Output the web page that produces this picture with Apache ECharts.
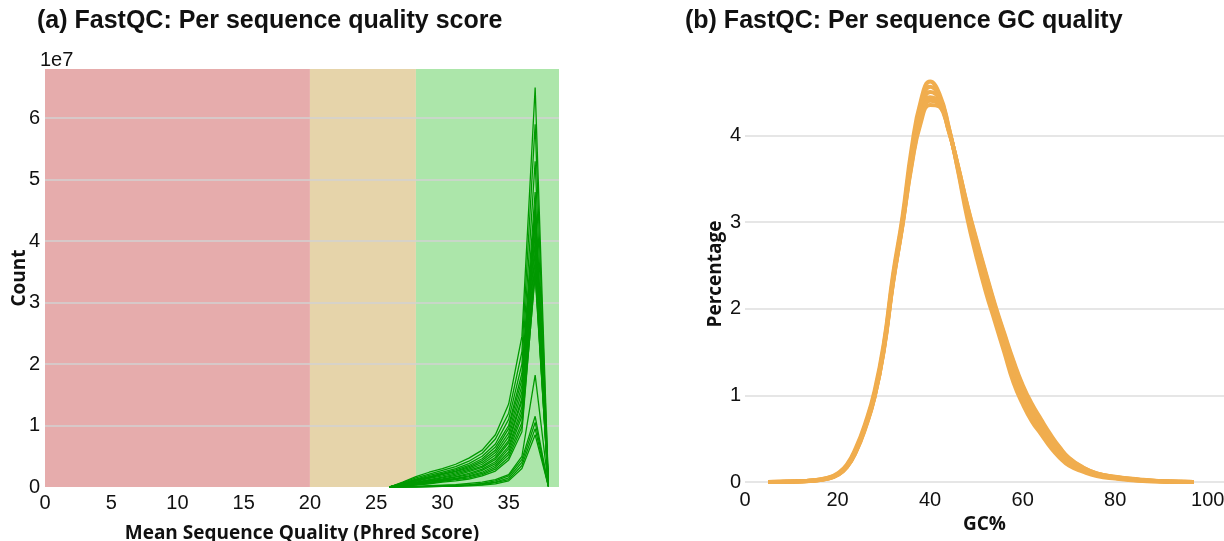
<!DOCTYPE html>
<html>
<head>
<meta charset="utf-8">
<script src="https://cdn.jsdelivr.net/npm/echarts@6/dist/echarts.min.js"></script>
<style>
html,body{margin:0;padding:0;background:#fff}
#chart{width:1224px;height:541px}
</style>
</head>
<body>
<div id="chart"></div>
<script>
// (a) per sequence quality score, counts in units of 1e7
const qualX = [26,27,28,29,30,31,32,33,34,35,36,37,38];
const qualLines = [
  [0,0.08,0.17,0.24,0.30,0.37,0.47,0.60,0.85,1.35,2.45,6.50,0.05],
  [0,0.07,0.15,0.21,0.27,0.33,0.42,0.55,0.78,1.20,2.20,5.90,0.04],
  [0,0.06,0.13,0.19,0.24,0.30,0.38,0.50,0.70,1.10,2.00,5.30,0.04],
  [0,0.06,0.12,0.17,0.22,0.28,0.35,0.46,0.65,1.00,1.85,4.80,0.03],
  [0,0.05,0.11,0.16,0.21,0.26,0.33,0.43,0.60,0.95,1.75,4.60,0.03],
  [0,0.05,0.10,0.15,0.20,0.25,0.31,0.40,0.56,0.88,1.65,4.50,0.03],
  [0,0.04,0.09,0.14,0.18,0.23,0.29,0.37,0.52,0.82,1.55,4.40,0.03],
  [0,0.04,0.08,0.12,0.16,0.21,0.27,0.34,0.48,0.76,1.45,4.30,0.02],
  [0,0.03,0.07,0.11,0.15,0.19,0.25,0.32,0.45,0.72,1.40,4.15,0.02],
  [0,0.03,0.06,0.10,0.13,0.17,0.22,0.29,0.41,0.66,1.30,4.00,0.02],
  [0,0.03,0.06,0.09,0.12,0.16,0.20,0.27,0.38,0.62,1.22,3.85,0.02],
  [0,0.02,0.05,0.08,0.11,0.14,0.18,0.24,0.35,0.57,1.15,3.70,0.02],
  [0,0.02,0.04,0.07,0.10,0.13,0.17,0.22,0.32,0.53,1.05,3.55,0.01],
  [0,0.02,0.04,0.06,0.09,0.12,0.15,0.20,0.29,0.48,0.98,3.45,0.01],
  [0,0.01,0.03,0.05,0.08,0.10,0.13,0.18,0.26,0.44,0.90,3.50,0.01],
  [0,0,0.01,0.02,0.03,0.04,0.06,0.08,0.12,0.20,0.50,1.82,0.02],
  [0,0,0.01,0.01,0.02,0.03,0.04,0.06,0.10,0.18,0.45,1.15,0.01],
  [0,0,0,0.01,0.02,0.02,0.03,0.05,0.08,0.15,0.40,1.05,0.01],
  [0,0,0,0.01,0.01,0.02,0.03,0.04,0.07,0.12,0.35,0.95,0.01],
  [0,0,0,0,0.01,0.01,0.02,0.03,0.05,0.10,0.30,0.85,0.01]
];
const qualBands = [[0,20,'#e6acac'],[20,28,'#e6d4aa'],[28,38.8,'#ace6aa']];

// (b) per sequence GC content, percentage
const gcX = [5,10,15,18,20,22,24,26,28,30,32,34,36,38,40,42,44,46,48,50,52,54,56,58,60,62,64,66,68,70,73,76,80,85,90,97];
const gcLines = [
  [0,0.005,0.02,0.05,0.1,0.2,0.4,0.68,1.05,1.6,2.4,3.05,3.85,4.4,4.62,4.48,4.1,3.6,3.05,2.6,2.2,1.85,1.5,1.15,0.9,0.7,0.55,0.4,0.28,0.19,0.12,0.07,0.04,0.015,0.005,0],
  [0,0.005,0.02,0.05,0.09,0.19,0.38,0.66,1.02,1.57,2.36,3.01,3.78,4.32,4.56,4.45,4.09,3.61,3.1,2.65,2.26,1.9,1.56,1.22,0.95,0.75,0.59,0.43,0.31,0.21,0.13,0.08,0.045,0.018,0.006,0],
  [0,0.005,0.018,0.045,0.09,0.18,0.37,0.65,1.0,1.55,2.34,2.99,3.74,4.27,4.5,4.42,4.08,3.63,3.14,2.7,2.32,1.95,1.61,1.28,1.01,0.8,0.63,0.47,0.34,0.23,0.14,0.085,0.05,0.022,0.007,0],
  [0,0.004,0.017,0.042,0.085,0.175,0.36,0.64,0.99,1.54,2.32,2.97,3.7,4.22,4.44,4.38,4.07,3.64,3.17,2.75,2.37,2.0,1.67,1.34,1.07,0.85,0.68,0.51,0.37,0.26,0.16,0.095,0.055,0.026,0.008,0],
  [0,0.004,0.016,0.041,0.082,0.172,0.355,0.63,0.985,1.53,2.31,2.96,3.67,4.18,4.4,4.35,4.06,3.65,3.19,2.78,2.4,2.03,1.7,1.38,1.1,0.88,0.7,0.53,0.39,0.27,0.165,0.1,0.058,0.028,0.009,0],
  [0,0.004,0.015,0.04,0.08,0.17,0.35,0.62,0.98,1.52,2.3,2.95,3.65,4.15,4.35,4.33,4.05,3.65,3.2,2.8,2.42,2.05,1.72,1.4,1.12,0.9,0.72,0.55,0.4,0.28,0.17,0.1,0.06,0.03,0.01,0]
];

const tickFont = {fontFamily:'Liberation Sans', fontSize:20, color:'#111'};
const nameFont = {fontFamily:'Open Sans', fontWeight:'bold', fontSize:19, color:'#111'};
const titleFont = {fontFamily:'Liberation Sans', fontWeight:'bold', fontSize:25, color:'#111'};

let chart = echarts.init(document.getElementById('chart'));

let series = [{
  type:'line', xAxisIndex:0, yAxisIndex:0, data:[], silent:true, z:0,
  markArea:{
    silent:true, z:0,
    data: qualBands.map(b => [{xAxis:b[0], itemStyle:{color:b[2]}}, {xAxis:b[1]}])
  }
}];
qualLines.forEach(vals => {
  series.push({
    type:'line', xAxisIndex:0, yAxisIndex:0, symbol:'none', silent:true, z:5,
    data: vals.map((v,i) => [qualX[i], v]),
    lineStyle:{color:'#009900', width:1.3}
  });
});
gcLines.forEach(vals => {
  series.push({
    type:'line', xAxisIndex:1, yAxisIndex:1, symbol:'none', silent:true, smooth:true, z:5,
    data: vals.map((v,i) => [gcX[i], v]),
    lineStyle:{color:'#f0ad4e', width:4}
  });
});

chart.setOption({
  animation:false,
  title:[
    {text:'(a) FastQC: Per sequence quality score', left:32, top:4, textStyle:titleFont},
    {text:'(b) FastQC: Per sequence GC quality', left:680, top:4, textStyle:titleFont},
    {text:'1e7', left:35, top:45, textStyle:{fontFamily:'Liberation Sans', fontSize:20, fontWeight:'normal', color:'#111'}}
  ],
  grid:[
    {left:45, top:69, width:514, height:418, outerBoundsMode:'none', containLabel:false},
    {left:745, top:66, right:0, height:416, outerBoundsMode:'none', containLabel:false}
  ],
  xAxis:[{
    gridIndex:0, type:'value', min:0, max:38.8, interval:5,
    axisLine:{show:false}, axisTick:{show:false}, splitLine:{show:false},
    axisLabel:Object.assign({margin:6, showMaxLabel:false}, tickFont),
    name:'Mean Sequence Quality (Phred Score)', nameLocation:'middle', nameGap:37, nameTextStyle:nameFont
  },{
    gridIndex:1, type:'value', min:0, max:103.5, interval:20,
    axisLine:{show:false}, axisTick:{show:false}, splitLine:{show:false},
    axisLabel:Object.assign({margin:8, showMaxLabel:false}, tickFont),
    name:'GC%', nameLocation:'middle', nameGap:32, nameTextStyle:nameFont
  }],
  yAxis:[{
    gridIndex:0, type:'value', min:0, max:6.8, interval:1, z:2,
    axisLine:{show:false}, axisTick:{show:false},
    splitLine:{show:true, showMinLine:false, showMaxLine:false, lineStyle:{color:'#d2d2d2', width:1.5}},
    axisLabel:Object.assign({margin:5, showMaxLabel:false}, tickFont),
    name:'Count', nameLocation:'middle', nameGap:16, nameMoveOverlap:false, nameTextStyle:nameFont
  },{
    gridIndex:1, type:'value', min:0, max:4.8, interval:1, z:2,
    axisLine:{show:false}, axisTick:{show:false},
    splitLine:{show:true, showMaxLine:false, lineStyle:{color:'#e6e6e6', width:2}},
    axisLabel:Object.assign({margin:4, showMaxLabel:false}, tickFont),
    name:'Percentage', nameLocation:'middle', nameGap:20, nameMoveOverlap:false, nameTextStyle:nameFont
  }],
  series:series
});
</script>
</body>
</html>
